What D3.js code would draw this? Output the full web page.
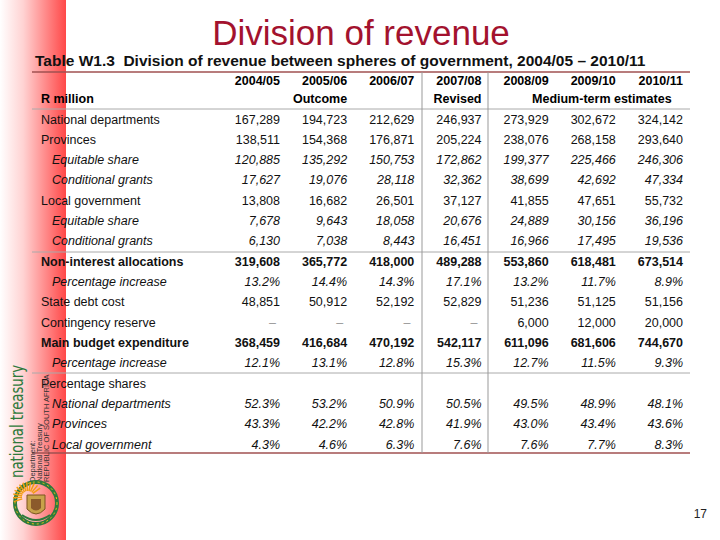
<!DOCTYPE html>
<html><head><meta charset="utf-8">
<script src="https://cdn.jsdelivr.net/npm/d3@7"></script>
<style>body{margin:0;background:#fff}svg{display:block;font-family:"Liberation Sans",Arial,sans-serif}</style>
</head><body><svg id="c" width="720" height="540"></svg>
<script>
const years = ["2004/05","2005/06","2006/07","2007/08","2008/09","2009/10","2010/11"];
const rowLabels = ["National departments","Provinces","Equitable share","Conditional grants","Local government","Equitable share","Conditional grants","Non-interest allocations","Percentage increase","State debt cost","Contingency reserve","Main budget expenditure","Percentage increase","Percentage shares","National departments","Provinces","Local government"];
const rowStyle = ["n","n","i","i","n","i","i","b","i","n","n","b","i","n","i","i","i"];
const rowKind  = ["num","num","num","num","num","num","num","num","pct","num","num","num","pct","none","pct","pct","pct"];
const nationalDepartments = [167289,194723,212629,246937,273929,302672,324142];
const provinces = [138511,154368,176871,205224,238076,268158,293640];
const provEquitable = [120885,135292,150753,172862,199377,225466,246306];
const provConditional = [17627,19076,28118,32362,38699,42692,47334];
const localGovernment = [13808,16682,26501,37127,41855,47651,55732];
const localEquitable = [7678,9643,18058,20676,24889,30156,36196];
const localConditional = [6130,7038,8443,16451,16966,17495,19536];
const nonInterest = [319608,365772,418000,489288,553860,618481,673514];
const nonInterestPct = [13.2,14.4,14.3,17.1,13.2,11.7,8.9];
const stateDebt = [48851,50912,52192,52829,51236,51125,51156];
const contingency = [null,null,null,null,6000,12000,20000];
const mainBudget = [368459,416684,470192,542117,611096,681606,744670];
const mainBudgetPct = [12.1,13.1,12.8,15.3,12.7,11.5,9.3];
const shareHeader = [null,null,null,null,null,null,null];
const shareNational = [52.3,53.2,50.9,50.5,49.5,48.9,48.1];
const shareProvinces = [43.3,42.2,42.8,41.9,43.0,43.4,43.6];
const shareLocal = [4.3,4.6,6.3,7.6,7.6,7.7,8.3];
const rowValues = [nationalDepartments,provinces,provEquitable,provConditional,localGovernment,localEquitable,localConditional,nonInterest,nonInterestPct,stateDebt,contingency,mainBudget,mainBudgetPct,shareHeader,shareNational,shareProvinces,shareLocal];
const groupLabels = [{text:"Outcome",col:"2005/06",anchor:"end"},{text:"Revised",col:"2007/08",anchor:"end"},{text:"Medium-term estimates",col:"2009/10",anchor:"middle"}];

const svg = d3.select("#c");
const defs = svg.append("defs");
const g = defs.append("linearGradient").attr("id","redbar").attr("x1","0").attr("x2","1").attr("y1","0").attr("y2","0");
g.append("stop").attr("offset","0").attr("stop-color","#ffffff");
g.append("stop").attr("offset","0.35").attr("stop-color","#ffd3d3");
g.append("stop").attr("offset","1").attr("stop-color","#ff4848");
svg.append("rect").attr("x",0).attr("y",0).attr("width",66).attr("height",540).attr("fill","url(#redbar)");

// Title
svg.append("text").attr("x",361).attr("y",45).attr("text-anchor","middle")
  .attr("font-size",35).attr("fill","#a3122e").text("Division of revenue");
svg.append("text").attr("x",35).attr("y",66).attr("font-size",15.5).attr("font-weight","bold").attr("fill","#111")
  .style("white-space","pre")
  .text("Table W1.3  Division of revenue between spheres of government, 2004/05 \u2013 2010/11");

const x = d3.scalePoint().domain(years).range([280,683]);
const y = d3.scalePoint().domain(d3.range(rowLabels.length)).range([119,444]);
const fmtN = d3.format(",");
const fmtP = v => v.toFixed(1) + "%";

// lines
const L = 32, R = 690;
svg.append("line").attr("x1",L).attr("x2",R).attr("y1",72).attr("y2",72).attr("stroke","#a05050").attr("stroke-width",1.6);
[109,252,373].forEach(yy=>svg.append("line").attr("x1",L).attr("x2",R).attr("y1",yy).attr("y2",yy).attr("stroke","#aaaaaa").attr("stroke-width",1));
svg.append("line").attr("x1",L).attr("x2",R).attr("y1",453).attr("y2",453).attr("stroke","#a05050").attr("stroke-width",1.6);
[422,488].forEach(xx=>svg.append("line").attr("x1",xx).attr("x2",xx).attr("y1",72).attr("y2",453).attr("stroke","#999").attr("stroke-width",1));

// header
const fs = 12.5;
svg.selectAll("text.yr").data(years).join("text").attr("class","yr")
  .attr("x",d=>x(d)).attr("y",85).attr("text-anchor","end").attr("font-size",fs).attr("font-weight","bold").text(d=>d);
svg.append("text").attr("x",41).attr("y",103).attr("font-size",fs).attr("font-weight","bold").text("R million");
svg.selectAll("text.grp").data(groupLabels).join("text").attr("class","grp")
  .attr("x",d=>d.anchor==="middle"? x(d.col)-14 : x(d.col)).attr("y",103).attr("text-anchor",d=>d.anchor)
  .attr("font-size",fs).attr("font-weight","bold").text(d=>d.text);

// rows
const rows = svg.selectAll("g.row").data(rowLabels.map((l,i)=>({l,i}))).join("g").attr("class","row")
  .attr("transform",d=>`translate(0,${y(d.i)+4.5})`);
rows.append("text").attr("x",d=>rowStyle[d.i]==="i"?52:41)
  .attr("font-size",fs).attr("font-weight",d=>rowStyle[d.i]==="b"?"bold":"normal")
  .attr("font-style",d=>rowStyle[d.i]==="i"?"italic":"normal").attr("fill","#111").text(d=>d.l);
rows.each(function(d){
  const vals = rowValues[d.i];
  d3.select(this).selectAll("text.v").data(vals.map((v,j)=>({v,j}))).join("text").attr("class","v")
    .attr("x",e=>e.v===null? x(years[e.j])-4 : x(years[e.j])).attr("text-anchor","end")
    .attr("font-size",fs).attr("font-weight",rowStyle[d.i]==="b"?"bold":"normal")
    .attr("font-style",rowStyle[d.i]==="i"?"italic":"normal")
    .attr("fill",e=>e.v===null?"#999":"#111")
    .text(e=>{ if(rowKind[d.i]==="none") return ""; if(e.v===null) return "\u2013"; return rowKind[d.i]==="pct"?fmtP(e.v):fmtN(e.v);});
});

// page number
svg.append("text").attr("x",707).attr("y",518).attr("text-anchor","end").attr("font-size",12).attr("fill","#222").text("17");

// logo
const logo = svg.append("g");
logo.append("text").attr("transform","translate(23,478) rotate(-90)").attr("font-size",17).attr("fill","#2e7a3c")
  .attr("font-family","'DejaVu Sans',sans-serif").attr("textLength",113).attr("lengthAdjust","spacingAndGlyphs").text("national treasury");
["Department:","National Treasury","REPUBLIC OF SOUTH AFRICA"].forEach((t,i)=>{
  logo.append("text").attr("transform",`translate(${35+i*7},482) rotate(-90)`).attr("font-size",7.5).attr("fill","#333").text(t);
});
const em = logo.append("g").attr("transform","translate(36,503)");
em.append("circle").attr("r",21).attr("fill","none").attr("stroke","#2e7a3c").attr("stroke-width",4);
em.append("circle").attr("r",21).attr("fill","none").attr("stroke","#f1c40f").attr("stroke-width",1).attr("stroke-dasharray","2 3");
d3.range(12).forEach(k=>{const a=Math.PI*(0.9+k/11*0.9);em.append("line").attr("x1",Math.cos(a)*6-8).attr("y1",Math.sin(a)*6-6).attr("x2",Math.cos(a)*15-8).attr("y2",Math.sin(a)*15-6).attr("stroke","#f39c12").attr("stroke-width",1.5);});
em.append("path").attr("d","M-9,-8 L9,-8 L9,6 Q0,16 -9,6 Z").attr("fill","#c8a24a").attr("stroke","#7a5520");
em.append("path").attr("d","M-5,-4 L5,-4 L5,5 Q0,10 -5,5 Z").attr("fill","#8b5a2b");
em.append("path").attr("d","M-14,12 Q0,22 14,12").attr("fill","none").attr("stroke","#2e7a3c").attr("stroke-width",2);
</script></body></html>
